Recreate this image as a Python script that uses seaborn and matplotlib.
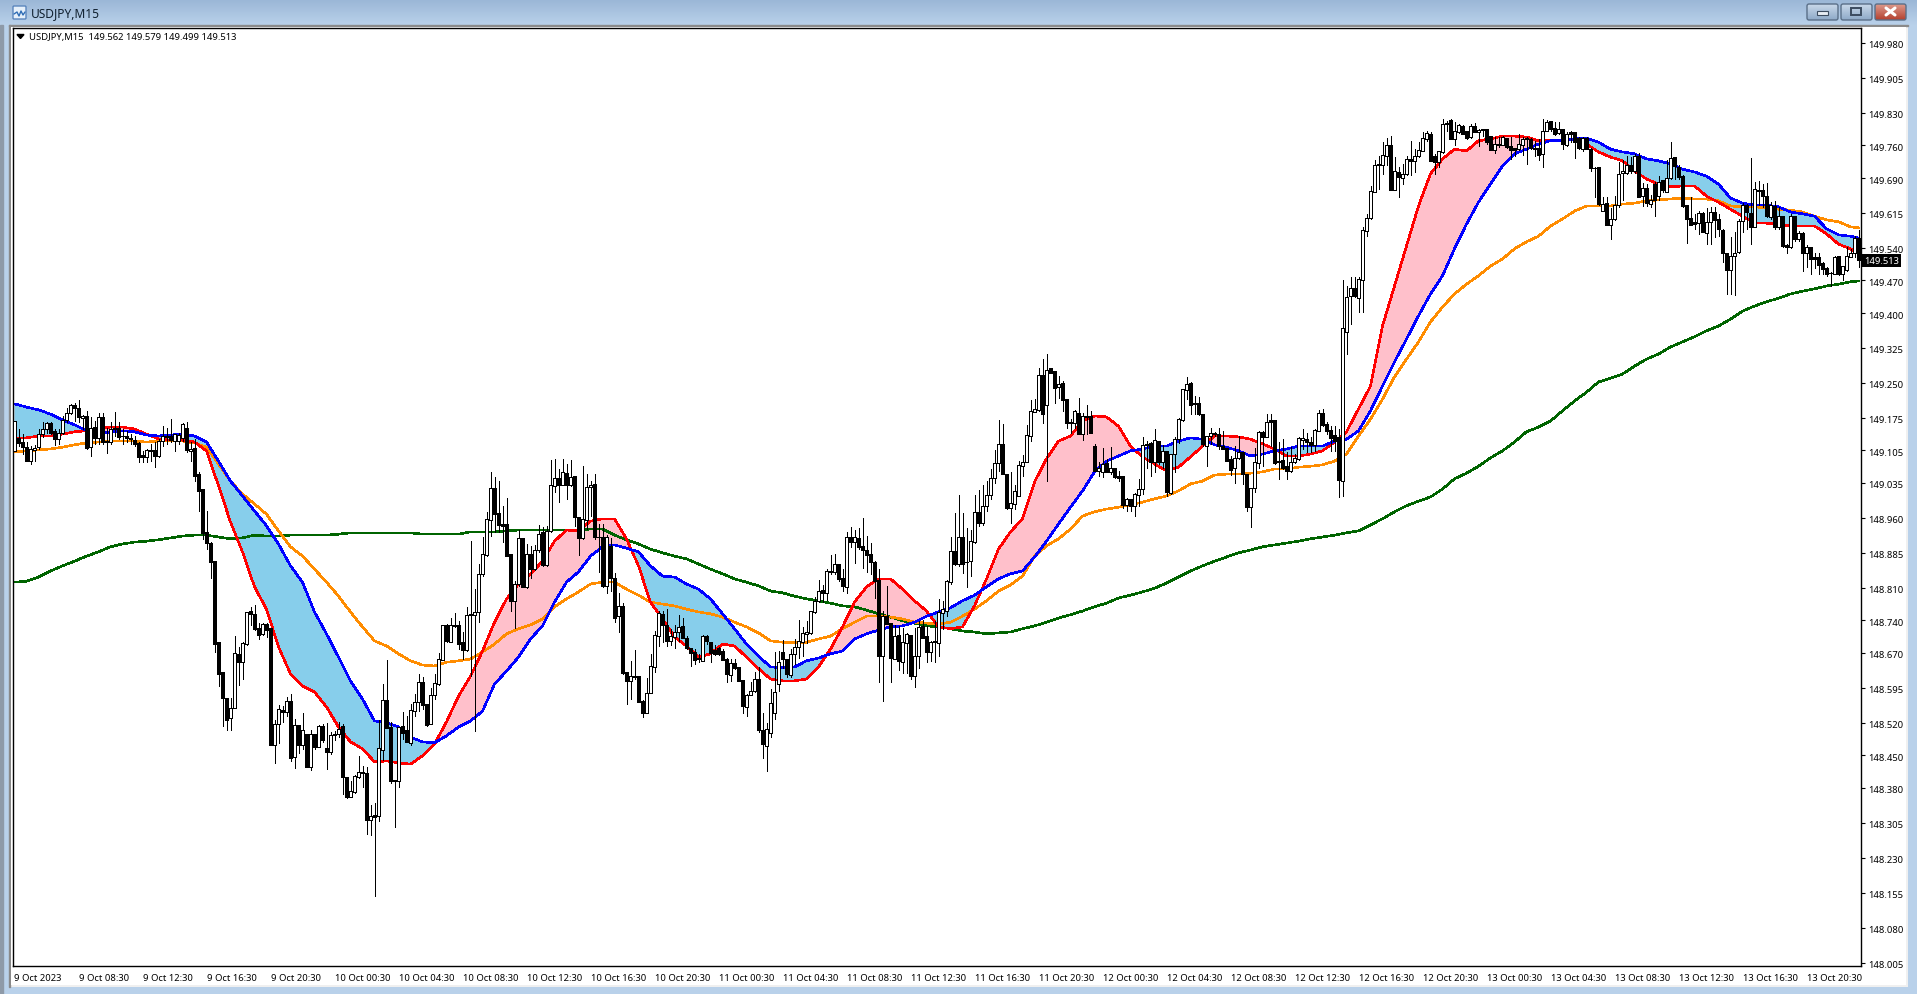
import numpy as np
import matplotlib
matplotlib.use('Agg')
import matplotlib.pyplot as plt
from matplotlib.patches import Rectangle, FancyBboxPatch, Polygon
from matplotlib.transforms import ScaledTranslation
import seaborn as sns

sns.set_theme(style='white')
plt.rcParams['font.family'] = ['Noto Sans', 'DejaVu Sans']

# M15 candles
bar_high = [
    149.168, 149.151, 149.140, 149.122, 149.115, 149.116, 149.151, 149.165, 149.166, 149.165,
    149.151, 149.151, 149.179, 149.197, 149.204, 149.206, 149.213, 149.181, 149.190, 149.176,
    149.168, 149.186, 149.186, 149.154, 149.165, 149.188, 149.165, 149.151, 149.147, 149.140,
    149.136, 149.123, 149.104, 149.108, 149.118, 149.122, 149.129, 149.158, 149.154, 149.172,
    149.140, 149.143, 149.163, 149.165, 149.122, 149.129, 149.058, 149.022, 148.975, 148.909,
    148.868, 148.694, 148.628, 148.573, 148.573, 148.707, 148.682, 148.694, 148.757, 148.768,
    148.772, 148.734, 148.734, 148.734, 148.723, 148.525, 148.558, 148.557, 148.575, 148.582,
    148.528, 148.515, 148.541, 148.496, 148.505, 148.496, 148.515, 148.517, 148.520, 148.501,
    148.503, 148.522, 148.517, 148.403, 148.396, 148.407, 148.448, 148.428, 148.424, 148.344,
    148.348, 148.527, 148.603, 148.655, 148.521, 148.397, 148.510, 148.543, 148.535, 148.560,
    148.582, 148.625, 148.618, 148.560, 148.594, 148.625, 148.669, 148.731, 148.733, 148.746,
    148.755, 148.739, 148.714, 148.769, 148.910, 148.807, 148.862, 148.918, 148.973, 149.058,
    149.047, 149.039, 148.986, 149.002, 148.882, 148.825, 148.933, 148.916, 148.904, 148.900,
    148.902, 148.945, 148.940, 148.943, 149.084, 149.087, 149.065, 149.087, 149.076, 149.084,
    149.049, 148.961, 149.071, 149.054, 149.039, 149.054, 148.947, 148.947, 148.923, 148.916,
    148.842, 148.799, 148.777, 148.628, 148.653, 148.676, 148.621, 148.569, 148.617, 148.668,
    148.718, 148.761, 148.761, 148.764, 148.721, 148.729, 148.751, 148.746, 148.707, 148.681,
    148.678, 148.668, 148.708, 148.708, 148.693, 148.686, 148.682, 148.678, 148.660, 148.658,
    148.657, 148.639, 148.612, 148.582, 148.608, 148.628, 148.639, 148.540, 148.520, 148.592,
    148.673, 148.675, 148.698, 148.658, 148.678, 148.700, 148.741, 148.725, 148.739, 148.761,
    148.791, 148.827, 148.816, 148.850, 148.880, 148.882, 148.861, 148.850, 148.929, 148.941,
    148.933, 148.938, 148.960, 148.922, 148.907, 148.868, 148.850, 148.761, 148.813, 148.734,
    148.730, 148.728, 148.723, 148.713, 148.708, 148.723, 148.739, 148.741, 148.727, 148.696,
    148.739, 148.786, 148.782, 148.827, 148.918, 148.971, 149.010, 148.971, 148.938, 148.933,
    149.010, 149.020, 149.030, 149.040, 149.065, 149.105, 149.170, 149.161, 149.055, 149.058,
    149.031, 149.083, 149.096, 149.159, 149.213, 149.215, 149.283, 149.301, 149.312, 149.283,
    149.276, 149.264, 149.254, 149.215, 149.172, 149.192, 149.217, 149.186, 149.202, 149.190,
    149.118, 149.079, 149.111, 149.086, 149.113, 149.068, 149.061, 149.049, 149.002, 149.000,
    149.013, 149.043, 149.134, 149.126, 149.122, 149.152, 149.126, 149.116, 149.104, 149.098,
    149.133, 149.174, 149.237, 149.263, 149.251, 149.222, 149.219, 149.183, 149.136, 149.154,
    149.144, 149.154, 149.147, 149.111, 149.093, 149.115, 149.136, 149.101, 149.055, 149.024,
    149.111, 149.147, 149.147, 149.183, 149.183, 149.170, 149.122, 149.129, 149.101, 149.113,
    149.097, 149.133, 149.152, 149.143, 149.133, 149.151, 149.192, 149.193, 149.165, 149.158,
    149.158, 149.151, 149.470, 149.459, 149.477, 149.477, 149.477, 149.584, 149.613, 149.672,
    149.728, 149.738, 149.768, 149.776, 149.781, 149.735, 149.713, 149.720, 149.738, 149.770,
    149.753, 149.767, 149.788, 149.792, 149.788, 149.742, 149.749, 149.817, 149.813, 149.817,
    149.810, 149.806, 149.803, 149.792, 149.806, 149.808, 149.796, 149.796, 149.796, 149.781,
    149.778, 149.778, 149.781, 149.776, 149.778, 149.754, 149.785, 149.778, 149.778, 149.776,
    149.770, 149.774, 149.816, 149.815, 149.813, 149.810, 149.811, 149.796, 149.788, 149.790,
    149.788, 149.778, 149.779, 149.778, 149.754, 149.713, 149.713, 149.649, 149.649, 149.625,
    149.651, 149.725, 149.728, 149.738, 149.735, 149.742, 149.743, 149.680, 149.677, 149.654,
    149.681, 149.695, 149.685, 149.728, 149.767, 149.735, 149.717, 149.697, 149.631, 149.649,
    149.613, 149.620, 149.616, 149.625, 149.627, 149.627, 149.613, 149.580, 149.530, 149.563,
    149.573, 149.602, 149.636, 149.634, 149.734, 149.681, 149.684, 149.677, 149.679, 149.638,
    149.641, 149.627, 149.609, 149.548, 149.613, 149.608, 149.577, 149.573, 149.546, 149.541,
    149.530, 149.530, 149.509, 149.498, 149.489, 149.522, 149.522, 149.502, 149.541, 149.537,
    149.565, 149.579,
]
bar_low = [
    149.104, 149.115, 149.097, 149.083, 149.075, 149.083, 149.108, 149.133, 149.143, 149.140,
    149.116, 149.118, 149.140, 149.166, 149.183, 149.168, 149.165, 149.151, 149.109, 149.093,
    149.118, 149.118, 149.118, 149.099, 149.118, 149.136, 149.129, 149.118, 149.122, 149.118,
    149.115, 149.080, 149.079, 149.079, 149.083, 149.070, 149.090, 149.115, 149.118, 149.122,
    149.104, 149.118, 149.126, 149.102, 149.083, 149.040, 148.975, 148.914, 148.893, 148.831,
    148.671, 148.600, 148.514, 148.505, 148.505, 148.551, 148.601, 148.613, 148.687, 148.730,
    148.720, 148.699, 148.709, 148.704, 148.473, 148.434, 148.477, 148.522, 148.535, 148.437,
    148.423, 148.455, 148.464, 148.426, 148.419, 148.464, 148.467, 148.478, 148.421, 148.453,
    148.482, 148.489, 148.366, 148.359, 148.361, 148.369, 148.401, 148.383, 148.281, 148.279,
    148.149, 148.308, 148.441, 148.508, 148.391, 148.297, 148.383, 148.485, 148.478, 148.473,
    148.534, 148.546, 148.550, 148.514, 148.517, 148.570, 148.601, 148.655, 148.693, 148.693,
    148.725, 148.678, 148.657, 148.675, 148.621, 148.503, 148.736, 148.836, 148.879, 148.922,
    148.929, 148.930, 148.908, 148.879, 148.761, 148.724, 148.814, 148.811, 148.809, 148.832,
    148.849, 148.886, 148.857, 148.857, 148.929, 149.016, 148.995, 149.031, 149.000, 149.029,
    148.942, 148.880, 148.915, 148.936, 148.965, 148.915, 148.844, 148.811, 148.799, 148.802,
    148.736, 148.716, 148.625, 148.560, 148.571, 148.615, 148.564, 148.532, 148.541, 148.583,
    148.628, 148.684, 148.693, 148.684, 148.686, 148.681, 148.696, 148.701, 148.678, 148.643,
    148.646, 148.650, 148.653, 148.689, 148.650, 148.666, 148.666, 148.655, 148.608, 148.610,
    148.635, 148.610, 148.542, 148.535, 148.580, 148.587, 148.501, 148.445, 148.416, 148.490,
    148.528, 148.589, 148.637, 148.618, 148.618, 148.646, 148.660, 148.664, 148.691, 148.711,
    148.756, 148.779, 148.779, 148.784, 148.839, 148.839, 148.825, 148.802, 148.799, 148.897,
    148.863, 148.893, 148.852, 148.844, 148.839, 148.789, 148.608, 148.567, 148.732, 148.608,
    148.657, 148.634, 148.627, 148.627, 148.614, 148.596, 148.637, 148.701, 148.651, 148.652,
    148.651, 148.663, 148.721, 148.749, 148.819, 148.859, 148.856, 148.842, 148.811, 148.836,
    148.907, 148.943, 148.945, 148.975, 149.000, 149.035, 149.060, 149.054, 148.979, 148.949,
    148.979, 149.006, 149.050, 149.079, 149.126, 149.188, 149.190, 149.164, 149.040, 149.272,
    149.207, 149.217, 149.190, 149.154, 149.143, 149.154, 149.140, 149.127, 149.140, 149.142,
    149.061, 149.050, 149.047, 149.058, 149.054, 149.045, 149.040, 148.982, 148.975, 148.975,
    148.965, 148.985, 149.011, 149.068, 149.050, 149.058, 149.075, 149.068, 149.007, 149.011,
    149.059, 149.121, 149.169, 149.215, 149.183, 149.183, 149.181, 149.115, 149.072, 149.118,
    149.136, 149.109, 149.108, 149.083, 149.052, 149.034, 149.086, 149.033, 148.975, 148.941,
    149.015, 149.068, 149.072, 149.133, 149.115, 149.075, 149.043, 149.065, 149.043, 149.058,
    149.078, 149.085, 149.108, 149.101, 149.102, 149.104, 149.147, 149.158, 149.140, 149.104,
    149.104, 149.004, 149.008, 149.311, 149.377, 149.434, 149.402, 149.402, 149.565, 149.602,
    149.660, 149.667, 149.699, 149.717, 149.665, 149.665, 149.649, 149.677, 149.697, 149.697,
    149.702, 149.735, 149.749, 149.770, 149.726, 149.699, 149.713, 149.744, 149.792, 149.773,
    149.760, 149.787, 149.785, 149.773, 149.776, 149.788, 149.758, 149.781, 149.763, 149.751,
    149.744, 149.756, 149.760, 149.754, 149.731, 149.738, 149.751, 149.740, 149.720, 149.753,
    149.738, 149.728, 149.713, 149.791, 149.792, 149.783, 149.785, 149.753, 149.758, 149.767,
    149.733, 149.753, 149.749, 149.753, 149.706, 149.649, 149.632, 149.620, 149.589, 149.558,
    149.599, 149.627, 149.642, 149.699, 149.701, 149.701, 149.649, 149.629, 149.629, 149.627,
    149.609, 149.642, 149.660, 149.660, 149.688, 149.688, 149.687, 149.627, 149.550, 149.589,
    149.581, 149.570, 149.573, 149.548, 149.548, 149.563, 149.565, 149.509, 149.441, 149.441,
    149.439, 149.530, 149.573, 149.580, 149.548, 149.584, 149.631, 149.627, 149.606, 149.602,
    149.580, 149.580, 149.541, 149.530, 149.539, 149.555, 149.555, 149.491, 149.498, 149.484,
    149.496, 149.484, 149.484, 149.480, 149.459, 149.484, 149.482, 149.471, 149.491, 149.520,
    149.520, 149.499,
]
bar_open = [
    149.104, 149.131, 149.122, 149.113, 149.083, 149.106, 149.113, 149.140, 149.151, 149.163,
    149.147, 149.129, 149.143, 149.171, 149.186, 149.202, 149.197, 149.174, 149.178, 149.113,
    149.156, 149.131, 149.176, 149.125, 149.123, 149.154, 149.154, 149.136, 149.135, 149.131,
    149.127, 149.121, 149.095, 149.090, 149.103, 149.105, 149.093, 149.126, 149.133, 149.136,
    149.126, 149.126, 149.131, 149.154, 149.104, 149.110, 149.054, 149.022, 148.929, 148.907,
    148.868, 148.694, 148.628, 148.573, 148.530, 148.551, 148.668, 148.651, 148.689, 148.760,
    148.754, 148.724, 148.711, 148.732, 148.723, 148.473, 148.517, 148.548, 148.544, 148.566,
    148.446, 148.515, 148.473, 148.496, 148.426, 148.496, 148.469, 148.514, 148.465, 148.458,
    148.493, 148.495, 148.512, 148.403, 148.361, 148.372, 148.404, 148.413, 148.412, 148.312,
    148.321, 148.319, 148.462, 148.569, 148.510, 148.397, 148.394, 148.512, 148.505, 148.477,
    148.546, 148.564, 148.607, 148.560, 148.517, 148.580, 148.604, 148.655, 148.731, 148.694,
    148.728, 148.729, 148.693, 148.677, 148.754, 148.752, 148.757, 148.839, 148.881, 148.956,
    149.024, 148.970, 148.947, 148.947, 148.882, 148.782, 148.819, 148.916, 148.811, 148.882,
    148.850, 148.890, 148.929, 148.859, 148.931, 149.029, 149.045, 149.031, 149.056, 149.031,
    149.049, 148.961, 148.916, 148.956, 149.026, 149.033, 148.920, 148.918, 148.813, 148.900,
    148.832, 148.749, 148.770, 148.628, 148.609, 148.619, 148.620, 148.567, 148.542, 148.585,
    148.639, 148.707, 148.754, 148.730, 148.696, 148.705, 148.716, 148.727, 148.703, 148.681,
    148.671, 148.660, 148.653, 148.706, 148.693, 148.677, 148.680, 148.675, 148.658, 148.623,
    148.648, 148.639, 148.612, 148.554, 148.580, 148.589, 148.615, 148.505, 148.471, 148.499,
    148.542, 148.603, 148.671, 148.658, 148.623, 148.668, 148.682, 148.693, 148.711, 148.713,
    148.757, 148.781, 148.805, 148.799, 148.843, 148.843, 148.861, 148.831, 148.812, 148.918,
    148.908, 148.917, 148.899, 148.892, 148.882, 148.866, 148.827, 148.664, 148.749, 148.734,
    148.658, 148.708, 148.651, 148.691, 148.708, 148.620, 148.663, 148.728, 148.706, 148.673,
    148.693, 148.691, 148.756, 148.761, 148.822, 148.888, 148.861, 148.918, 148.866, 148.867,
    148.908, 148.972, 148.949, 148.985, 149.010, 149.045, 149.078, 149.118, 149.055, 148.982,
    148.990, 149.007, 149.072, 149.080, 149.136, 149.188, 149.192, 149.267, 149.203, 149.281,
    149.275, 149.242, 149.249, 149.215, 149.166, 149.164, 149.186, 149.140, 149.177, 149.178,
    149.115, 149.061, 149.059, 149.078, 149.059, 149.068, 149.049, 149.049, 148.987, 149.000,
    148.986, 149.010, 149.022, 149.116, 149.120, 149.079, 149.126, 149.079, 149.104, 149.013,
    149.098, 149.129, 149.170, 149.235, 149.249, 149.204, 149.206, 149.183, 149.115, 149.135,
    149.141, 149.140, 149.115, 149.111, 149.086, 149.067, 149.088, 149.101, 149.055, 148.984,
    149.024, 149.078, 149.145, 149.133, 149.170, 149.170, 149.083, 149.084, 149.071, 149.061,
    149.079, 149.086, 149.128, 149.129, 149.122, 149.117, 149.147, 149.186, 149.161, 149.149,
    149.138, 149.133, 149.040, 149.359, 149.436, 149.453, 149.432, 149.472, 149.577, 149.604,
    149.661, 149.719, 149.719, 149.738, 149.761, 149.665, 149.702, 149.691, 149.698, 149.731,
    149.726, 149.737, 149.749, 149.774, 149.785, 149.738, 149.724, 149.745, 149.807, 149.815,
    149.773, 149.788, 149.801, 149.790, 149.778, 149.801, 149.788, 149.794, 149.796, 149.780,
    149.751, 149.761, 149.761, 149.776, 149.758, 149.754, 149.753, 149.761, 149.774, 149.774,
    149.755, 149.754, 149.741, 149.792, 149.813, 149.797, 149.787, 149.796, 149.760, 149.788,
    149.788, 149.776, 149.753, 149.776, 149.753, 149.712, 149.713, 149.620, 149.637, 149.589,
    149.601, 149.631, 149.701, 149.701, 149.719, 149.704, 149.738, 149.652, 149.668, 149.634,
    149.677, 149.652, 149.685, 149.660, 149.690, 149.735, 149.713, 149.695, 149.631, 149.604,
    149.595, 149.594, 149.615, 149.572, 149.596, 149.618, 149.602, 149.579, 149.530, 149.493,
    149.522, 149.532, 149.598, 149.632, 149.615, 149.585, 149.665, 149.665, 149.652, 149.606,
    149.629, 149.584, 149.608, 149.546, 149.541, 149.608, 149.558, 149.572, 149.528, 149.541,
    149.520, 149.520, 149.507, 149.496, 149.487, 149.484, 149.522, 149.484, 149.493, 149.521,
    149.530, 149.562,
]
bar_close = [
    149.168, 149.121, 149.113, 149.083, 149.108, 149.111, 149.140, 149.152, 149.163, 149.143,
    149.129, 149.143, 149.171, 149.186, 149.202, 149.197, 149.176, 149.179, 149.111, 149.154,
    149.131, 149.176, 149.122, 149.122, 149.152, 149.151, 149.133, 149.135, 149.131, 149.129,
    149.118, 149.091, 149.090, 149.106, 149.105, 149.093, 149.126, 149.136, 149.136, 149.127,
    149.140, 149.138, 149.161, 149.105, 149.109, 149.050, 149.018, 148.927, 148.907, 148.866,
    148.689, 148.625, 148.573, 148.527, 148.551, 148.669, 148.650, 148.691, 148.757, 148.754,
    148.722, 148.709, 148.732, 148.720, 148.473, 148.517, 148.550, 148.544, 148.566, 148.444,
    148.515, 148.473, 148.505, 148.426, 148.496, 148.469, 148.514, 148.482, 148.458, 148.494,
    148.495, 148.507, 148.403, 148.360, 148.373, 148.405, 148.414, 148.414, 148.312, 148.319,
    148.318, 148.466, 148.569, 148.508, 148.395, 148.394, 148.510, 148.497, 148.478, 148.548,
    148.564, 148.607, 148.559, 148.515, 148.580, 148.606, 148.657, 148.731, 148.695, 148.729,
    148.730, 148.689, 148.677, 148.751, 148.751, 148.757, 148.839, 148.882, 148.958, 149.024,
    148.968, 148.945, 148.943, 148.879, 148.782, 148.819, 148.916, 148.811, 148.882, 148.850,
    148.890, 148.925, 148.859, 148.932, 149.031, 149.045, 149.031, 149.058, 149.031, 149.047,
    148.961, 148.916, 148.958, 149.026, 149.031, 148.920, 148.918, 148.813, 148.920, 148.832,
    148.746, 148.770, 148.627, 148.610, 148.620, 148.620, 148.565, 148.542, 148.585, 148.641,
    148.708, 148.756, 148.729, 148.696, 148.706, 148.716, 148.725, 148.702, 148.681, 148.670,
    148.655, 148.658, 148.707, 148.696, 148.670, 148.668, 148.668, 148.655, 148.625, 148.648,
    148.638, 148.610, 148.555, 148.580, 148.589, 148.615, 148.505, 148.475, 148.507, 148.562,
    148.587, 148.650, 148.657, 148.625, 148.668, 148.682, 148.696, 148.712, 148.714, 148.759,
    148.782, 148.804, 148.798, 148.846, 148.846, 148.862, 148.829, 148.813, 148.918, 148.909,
    148.918, 148.897, 148.890, 148.881, 148.865, 148.825, 148.664, 148.749, 148.732, 148.660,
    148.706, 148.653, 148.693, 148.711, 148.621, 148.664, 148.726, 148.703, 148.673, 148.694,
    148.695, 148.757, 148.764, 148.824, 148.888, 148.861, 148.918, 148.861, 148.865, 148.910,
    148.972, 148.949, 148.985, 149.010, 149.045, 149.078, 149.118, 149.054, 148.981, 148.992,
    149.017, 149.073, 149.081, 149.137, 149.189, 149.194, 149.267, 149.183, 149.278, 149.272,
    149.239, 149.247, 149.214, 149.164, 149.164, 149.189, 149.141, 149.178, 149.179, 149.143,
    149.061, 149.068, 149.075, 149.059, 149.068, 149.047, 149.046, 148.987, 149.000, 148.986,
    149.011, 149.022, 149.117, 149.118, 149.080, 149.127, 149.079, 149.103, 149.015, 149.098,
    149.129, 149.172, 149.237, 149.247, 149.202, 149.207, 149.183, 149.118, 149.135, 149.142,
    149.142, 149.115, 149.108, 149.083, 149.063, 149.088, 149.101, 149.054, 148.984, 149.024,
    149.079, 149.145, 149.134, 149.167, 149.167, 149.078, 149.081, 149.068, 149.061, 149.079,
    149.088, 149.131, 149.131, 149.123, 149.116, 149.149, 149.186, 149.160, 149.147, 149.131,
    149.126, 149.042, 149.368, 149.434, 149.453, 149.436, 149.473, 149.579, 149.604, 149.662,
    149.718, 149.720, 149.740, 149.761, 149.665, 149.705, 149.692, 149.698, 149.731, 149.726,
    149.737, 149.750, 149.776, 149.787, 149.726, 149.724, 149.747, 149.805, 149.808, 149.773,
    149.792, 149.804, 149.785, 149.776, 149.801, 149.788, 149.794, 149.795, 149.768, 149.751,
    149.763, 149.762, 149.778, 149.756, 149.750, 149.751, 149.763, 149.774, 149.775, 149.754,
    149.753, 149.740, 149.792, 149.811, 149.796, 149.785, 149.796, 149.762, 149.785, 149.785,
    149.768, 149.754, 149.776, 149.753, 149.711, 149.711, 149.634, 149.634, 149.589, 149.602,
    149.631, 149.699, 149.704, 149.717, 149.704, 149.737, 149.650, 149.668, 149.637, 149.643,
    149.642, 149.682, 149.665, 149.690, 149.733, 149.715, 149.692, 149.629, 149.601, 149.589,
    149.591, 149.615, 149.573, 149.595, 149.616, 149.600, 149.580, 149.529, 149.493, 149.523,
    149.530, 149.598, 149.632, 149.616, 149.584, 149.666, 149.663, 149.651, 149.609, 149.631,
    149.584, 149.608, 149.545, 149.541, 149.608, 149.558, 149.572, 149.530, 149.541, 149.515,
    149.516, 149.504, 149.495, 149.484, 149.486, 149.520, 149.484, 149.500, 149.522, 149.530,
    149.562, 149.513,
]

# moving averages, read every 3 bars
ma_bars = list(range(0, 460, 3)) + [461]
ma_blue = [
    149.205, 149.198, 149.192, 149.183, 149.170, 149.160, 149.147, 149.140, 149.145, 149.147,
    149.145, 149.138, 149.136, 149.138, 149.140, 149.136, 149.123, 149.082, 149.039, 149.007,
    148.975, 148.943, 148.904, 148.857, 148.822, 148.758, 148.711, 148.661, 148.610, 148.571,
    148.524, 148.520, 148.511, 148.489, 148.479, 148.477, 148.492, 148.511, 148.524, 148.545,
    148.603, 148.631, 148.661, 148.700, 148.728, 148.779, 148.822, 148.844, 148.878, 148.898,
    148.902, 148.895, 148.887, 148.857, 148.835, 148.833, 148.818, 148.807, 148.786, 148.754,
    148.722, 148.689, 148.663, 148.640, 148.638, 148.640, 148.653, 148.659, 148.668, 148.674,
    148.700, 148.711, 148.719, 148.726, 148.728, 148.736, 148.749, 148.758, 148.767, 148.782,
    148.794, 148.812, 148.829, 148.840, 148.846, 148.876, 148.910, 148.947, 148.983, 149.018,
    149.059, 149.082, 149.093, 149.104, 149.108, 149.114, 149.114, 149.125, 149.132, 149.129,
    149.117, 149.112, 149.104, 149.093, 149.097, 149.104, 149.108, 149.114, 149.114, 149.114,
    149.125, 149.129, 149.147, 149.190, 149.243, 149.295, 149.344, 149.394, 149.441, 149.480,
    149.538, 149.591, 149.638, 149.677, 149.716, 149.742, 149.752, 149.763, 149.770, 149.770,
    149.774, 149.776, 149.767, 149.752, 149.746, 149.742, 149.731, 149.727, 149.720, 149.709,
    149.703, 149.694, 149.677, 149.647, 149.636, 149.632, 149.632, 149.628, 149.617, 149.613,
    149.608, 149.581, 149.568, 149.565, 149.561,
]
ma_red = [
    149.132, 149.132, 149.136, 149.136, 149.140, 149.145, 149.147, 149.153, 149.155, 149.155,
    149.151, 149.140, 149.130, 149.127, 149.127, 149.123, 149.104, 149.029, 148.951, 148.887,
    148.812, 148.764, 148.683, 148.625, 148.599, 148.586, 148.554, 148.511, 148.479, 148.464,
    148.436, 148.438, 148.434, 148.431, 148.449, 148.474, 148.522, 148.577, 148.620, 148.674,
    148.736, 148.786, 148.818, 148.840, 148.867, 148.910, 148.934, 148.932, 148.953, 148.958,
    148.958, 148.915, 148.857, 148.779, 148.743, 148.704, 148.685, 148.661, 148.668, 148.689,
    148.685, 148.661, 148.636, 148.614, 148.610, 148.610, 148.614, 148.640, 148.678, 148.726,
    148.779, 148.812, 148.829, 148.829, 148.807, 148.782, 148.760, 148.726, 148.722, 148.726,
    148.771, 148.829, 148.893, 148.930, 148.958, 149.037, 149.087, 149.125, 149.136, 149.168,
    149.179, 149.177, 149.157, 149.114, 149.091, 149.076, 149.061, 149.069, 149.091, 149.114,
    149.136, 149.136, 149.134, 149.129, 149.119, 149.108, 149.093, 149.093, 149.097, 149.104,
    149.123, 149.145, 149.194, 149.243, 149.372, 149.458, 149.544, 149.630, 149.699, 149.731,
    149.752, 149.748, 149.770, 149.774, 149.780, 149.780, 149.778, 149.770, 149.770, 149.772,
    149.774, 149.763, 149.746, 149.735, 149.727, 149.705, 149.688, 149.677, 149.671, 149.673,
    149.673, 149.651, 149.638, 149.623, 149.608, 149.593, 149.593, 149.591, 149.587, 149.587,
    149.587, 149.570, 149.548, 149.538, 149.527,
]
ma_orange = [
    149.102, 149.104, 149.106, 149.108, 149.112, 149.117, 149.121, 149.123, 149.125, 149.125,
    149.125, 149.123, 149.125, 149.125, 149.125, 149.121, 149.112, 149.076, 149.039, 149.011,
    148.990, 148.968, 148.932, 148.898, 148.878, 148.850, 148.822, 148.792, 148.758, 148.726,
    148.696, 148.685, 148.668, 148.653, 148.644, 148.642, 148.650, 148.653, 148.657, 148.672,
    148.689, 148.711, 148.722, 148.730, 148.743, 148.769, 148.786, 148.801, 148.818, 148.822,
    148.822, 148.807, 148.794, 148.779, 148.775, 148.771, 148.764, 148.758, 148.754, 148.747,
    148.736, 148.726, 148.713, 148.696, 148.693, 148.693, 148.693, 148.700, 148.706, 148.722,
    148.736, 148.749, 148.749, 148.747, 148.743, 148.736, 148.734, 148.732, 148.736, 148.749,
    148.764, 148.782, 148.803, 148.816, 148.835, 148.878, 148.900, 148.915, 148.936, 148.964,
    148.973, 148.979, 148.983, 148.988, 148.994, 149.001, 149.007, 149.018, 149.033, 149.039,
    149.052, 149.054, 149.054, 149.056, 149.059, 149.065, 149.065, 149.069, 149.071, 149.074,
    149.082, 149.097, 149.136, 149.172, 149.215, 149.263, 149.301, 149.338, 149.381, 149.413,
    149.441, 149.462, 149.480, 149.501, 149.516, 149.538, 149.553, 149.565, 149.587, 149.602,
    149.619, 149.630, 149.630, 149.630, 149.634, 149.636, 149.641, 149.643, 149.645, 149.647,
    149.645, 149.645, 149.641, 149.630, 149.628, 149.628, 149.626, 149.623, 149.621, 149.617,
    149.608, 149.600, 149.596, 149.585, 149.583,
]
ma_green = [
    148.822, 148.824, 148.833, 148.846, 148.857, 148.867, 148.878, 148.887, 148.898, 148.904,
    148.908, 148.910, 148.913, 148.917, 148.921, 148.923, 148.923, 148.919, 148.915, 148.917,
    148.923, 148.921, 148.921, 148.923, 148.923, 148.923, 148.923, 148.925, 148.928, 148.928,
    148.928, 148.928, 148.928, 148.928, 148.925, 148.925, 148.925, 148.925, 148.930, 148.930,
    148.930, 148.932, 148.934, 148.934, 148.934, 148.934, 148.934, 148.934, 148.936, 148.936,
    148.923, 148.913, 148.904, 148.893, 148.885, 148.878, 148.872, 148.861, 148.850, 148.840,
    148.829, 148.822, 148.814, 148.803, 148.799, 148.792, 148.786, 148.782, 148.777, 148.771,
    148.769, 148.762, 148.754, 148.747, 148.739, 148.734, 148.728, 148.726, 148.722, 148.717,
    148.715, 148.711, 148.713, 148.715, 148.722, 148.728, 148.736, 148.745, 148.752, 148.760,
    148.769, 148.777, 148.788, 148.794, 148.801, 148.809, 148.820, 148.833, 148.846, 148.857,
    148.867, 148.876, 148.885, 148.891, 148.898, 148.902, 148.906, 148.910, 148.915, 148.919,
    148.923, 148.928, 148.932, 148.945, 148.958, 148.973, 148.986, 148.996, 149.005, 149.022,
    149.044, 149.056, 149.071, 149.089, 149.104, 149.123, 149.145, 149.155, 149.168, 149.190,
    149.211, 149.230, 149.252, 149.260, 149.269, 149.286, 149.301, 149.312, 149.327, 149.338,
    149.349, 149.362, 149.372, 149.387, 149.404, 149.415, 149.424, 149.432, 149.441, 149.447,
    149.452, 149.458, 149.462, 149.467, 149.469,
]

price_ticks = [
    149.980, 149.905, 149.830, 149.760, 149.690, 149.615, 149.540, 149.470, 149.400, 149.325,
    149.250, 149.175, 149.105, 149.035, 148.960, 148.885, 148.810, 148.740, 148.670, 148.595,
    148.520, 148.450, 148.380, 148.305, 148.230, 148.155, 148.080, 148.005,
]
time_labels = [
    '9 Oct 2023', '9 Oct 08:30', '9 Oct 12:30', '9 Oct 16:30', '9 Oct 20:30',
    '10 Oct 00:30', '10 Oct 04:30', '10 Oct 08:30', '10 Oct 12:30', '10 Oct 16:30', '10 Oct 20:30',
    '11 Oct 00:30', '11 Oct 04:30', '11 Oct 08:30', '11 Oct 12:30', '11 Oct 16:30', '11 Oct 20:30',
    '12 Oct 00:30', '12 Oct 04:30', '12 Oct 08:30', '12 Oct 12:30', '12 Oct 16:30', '12 Oct 20:30',
    '13 Oct 00:30', '13 Oct 04:30', '13 Oct 08:30', '13 Oct 12:30', '13 Oct 16:30', '13 Oct 20:30',
]
symbol = 'USDJPY,M15'
last_price = 149.513

W, H = 1917, 995
fig = plt.figure(figsize=(W / 100, H / 100), dpi=100, facecolor='#B9D1EA')

# window frame, in screen pixels
chrome = fig.add_axes([0, 0, 1, 1], zorder=0)
chrome.axis('off')
grad = np.linspace(0, 1, 64).reshape(-1, 1)
title_cmap = matplotlib.colors.LinearSegmentedColormap.from_list('t', ['#9AB6D6', '#B9D1EA'])
chrome.imshow(grad, extent=(0, W, 26, 0), cmap=title_cmap, aspect='auto', zorder=1)
chrome.add_patch(Rectangle((0, 26), 3, H - 26, color='#8E9AA8', zorder=1))
chrome.add_patch(Rectangle((9, 26), 1899, 962, facecolor='#F0F0F0', edgecolor='none', zorder=2))
chrome.add_patch(Rectangle((9, 26), 1, 962, color='#8A8A8A', zorder=2))
chrome.add_patch(Rectangle((9, 26), 1899, 1, color='#8A8A8A', zorder=2))
chrome.add_patch(Rectangle((11, 28), 1895, 958, facecolor='white', edgecolor='none', zorder=3))
chrome.text(31, 13.5, symbol, fontsize=8.6, color='#10202F', va='center', ha='left', zorder=5)

# little chart icon in the title bar
chrome.add_patch(FancyBboxPatch((14, 8), 11, 11, boxstyle='round,pad=1', facecolor='#E6F0FA',
                                edgecolor='#5B86BD', linewidth=1, zorder=4))
chrome.plot([14, 17, 19, 21, 23, 25], [15, 13, 17, 12, 16, 13], color='#2F6DB5', lw=1, zorder=5)

# min / max / close buttons
for bx, fc_top, fc_bot in [(1807, '#C9D9EA', '#8EA9C8'), (1841, '#C9D9EA', '#8EA9C8'), (1875, '#DD9A8C', '#B4402F')]:
    cm = matplotlib.colors.LinearSegmentedColormap.from_list('b', [fc_top, fc_bot])
    chrome.imshow(grad, extent=(bx, bx + 31, 21, 5), cmap=cm, aspect='auto', zorder=4)
    chrome.add_patch(FancyBboxPatch((bx, 5), 31, 16, boxstyle='round,pad=0,rounding_size=2', facecolor='none',
                                    edgecolor='#5A6F88', linewidth=1, zorder=5))
chrome.add_patch(Rectangle((1817, 12), 11, 4, facecolor='#E8EEF5', edgecolor='#3C4C60', lw=0.8, zorder=6))
chrome.add_patch(Rectangle((1851, 9), 10, 7, facecolor='none', edgecolor='#3C4C60', lw=1.4, zorder=6))
chrome.plot([1886, 1895], [9, 16], color='white', lw=2.2, zorder=6)
chrome.plot([1886, 1895], [16, 9], color='white', lw=2.2, zorder=6)
chrome.add_patch(Polygon([[17, 35.5], [24, 35.5], [20.5, 39.5]], closed=True, color='black', zorder=6))
chrome.set_xlim(0, W)
chrome.set_ylim(H, 0)

# chart area
left, right, top, bottom = 13, 1861, 29, 967
ax = fig.add_axes([left / W, 1 - bottom / H, (right - left) / W, (bottom - top) / H], zorder=2)
ax.patch.set_alpha(0)

bars = np.arange(len(bar_close))
opens, closes = np.array(bar_open), np.array(bar_close)

blue = np.array(ma_blue)
red = np.array(ma_red)
ax.fill_between(ma_bars, blue, red, where=blue >= red, interpolate=True, color='#87CEEB', lw=0, zorder=1)
ax.fill_between(ma_bars, blue, red, where=red >= blue, interpolate=True, color='#FFC0CB', lw=0, zorder=1)

for values, col in [(ma_green, '#006400'), (ma_orange, '#FF8C00'), (ma_red, '#FF0000'), (ma_blue, '#0000FF')]:
    sns.lineplot(x=ma_bars, y=values, color=col, linewidth=1.15, ax=ax, zorder=2, legend=False, antialiased=False)

ax.vlines(bars, bar_low, bar_high, color='black', linewidth=0.72, zorder=3, antialiased=False)
ax.bar(bars, np.abs(closes - opens), bottom=np.minimum(opens, closes), width=0.62,
       color=['white' if c >= o else 'black' for o, c in zip(bar_open, bar_close)],
       edgecolor='black', linewidth=0.72, zorder=4, antialiased=False)

ax.set_xlim(-0.375, 461.625)
ax.set_ylim(147.9976, 150.0122)
ax.set_xlabel('')
ax.set_ylabel('')

ax.yaxis.tick_right()
ax.set_yticks(price_ticks)
ax.set_yticklabels([f'{p:.3f}' for p in price_ticks])
ax.tick_params(axis='y', direction='out', length=3, width=0.8, color='black', pad=2, labelsize=6.8, labelcolor='black')
nudge = ScaledTranslation(0, -1 / 100, fig.dpi_scale_trans)
for lab in ax.get_yticklabels():
    lab.set_transform(lab.get_transform() + nudge)

time_ticks = np.arange(len(time_labels)) * 16
ax.set_xticks(time_ticks)
ax.set_xticklabels(time_labels, ha='left')
ax.tick_params(axis='x', direction='out', length=3, width=0.8, color='black', pad=2, labelsize=6.8, labelcolor='black')

for s in ax.spines.values():
    s.set_visible(True)
    s.set_color('black')
    s.set_linewidth(1.0)

# header text and the current price tag
ax.annotate(symbol + '  149.562 149.579 149.499 149.513', xy=(29, H - 37.5), xycoords='figure pixels',
            fontsize=6.8, color='black', va='center', ha='left')
ax.annotate(f'{last_price:.3f}', xy=(1, last_price), xycoords=('axes fraction', 'data'),
            xytext=(2.5, 0), textcoords='offset points', fontsize=6.8, color='white', va='center', ha='left',
            annotation_clip=False, bbox=dict(boxstyle='square,pad=0.22', fc='black', ec='none'), zorder=10)

fig.savefig('out.png', dpi=100, facecolor=fig.get_facecolor())
